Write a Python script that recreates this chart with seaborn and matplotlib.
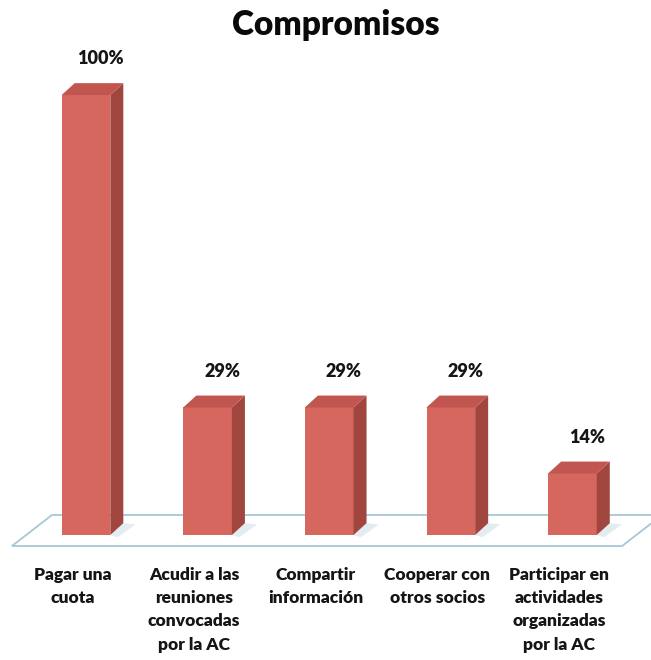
import pandas as pd
import matplotlib
matplotlib.use('Agg')
import matplotlib.pyplot as plt
from matplotlib.patches import Polygon
import seaborn as sns

sns.set_theme(style='white')
plt.rcParams['font.family'] = ['Lato', 'DejaVu Sans']

# data
categories = ['Pagar una\ncuota',
              'Acudir a las\nreuniones\nconvocadas\npor la AC',
              'Compartir\ninformación',
              'Cooperar con\notros socios',
              'Participar en\nactividades\norganizadas\npor la AC']
values = [100, 29, 29, 29, 14]
labels = ['100%', '29%', '29%', '29%', '14%']

df = pd.DataFrame({'cat': categories, 'val': values})

front_c = '#d5675f'   # front face
side_c = '#a1463f'    # right side (shaded)
top_c = '#c0564f'     # top face
floor_edge = '#a6c8d6'
text_c = '#151515'

fig = plt.figure(figsize=(6.51, 6.60), dpi=100)
ax = fig.add_axes([0, 0, 1, 1])

sns.barplot(data=df, x='cat', y='val', color=front_c, saturation=1, width=0.40,
            linewidth=0, ax=ax, zorder=3)

ax.set_xlim(-0.707, 4.646)
ax.set_ylim(-28.4, 121.6)
ax.axis('off')

# faux 3d depth (data units)
dx, dy = 0.107, 2.7

# floor plane
floor = Polygon([(-0.609, -2.5), (4.408, -2.5), (4.737, 4.55), (-0.280, 4.55)],
                closed=True, facecolor='white', edgecolor=floor_edge, lw=1.3, zorder=1)
ax.add_patch(floor)

for p in ax.patches[:len(values)]:
    x0 = p.get_x()
    w = p.get_width()
    h = p.get_height()
    x1 = x0 + w
    # soft shadow on the floor
    ax.add_patch(Polygon([(x1, 0), (x1 + dx, dy), (x1 + dx + 0.1, dy - 0.3), (x1 + 0.06, -0.5)],
                         closed=True, facecolor='#e2ecf1', edgecolor='none', zorder=2))
    # right side
    ax.add_patch(Polygon([(x1, 0), (x1 + dx, dy), (x1 + dx, h + dy), (x1, h)],
                         closed=True, facecolor=side_c, edgecolor='none', zorder=3))
    # top
    ax.add_patch(Polygon([(x0, h), (x1, h), (x1 + dx, h + dy), (x0 + dx, h + dy)],
                         closed=True, facecolor=top_c, edgecolor='none', zorder=3))

# value labels
for i, (v, lab) in enumerate(zip(values, labels)):
    ax.annotate(lab, xy=(i + 0.12, v), xytext=(0, 26), textcoords='offset points',
                ha='center', va='center', fontsize=13, fontweight='heavy', color=text_c)

# category labels below the floor
for i, cat in enumerate(categories):
    ax.text(i - 0.11, -7.2, cat, ha='center', va='top', fontsize=12.5,
            fontweight='heavy', color=text_c, linespacing=1.56)

fig.text(336 / 651, 1 - 35 / 660, 'Compromisos', ha='center', va='baseline',
         fontsize=24, fontweight='heavy', color='#0a0a0a')

fig.savefig('out.png', dpi=100)
